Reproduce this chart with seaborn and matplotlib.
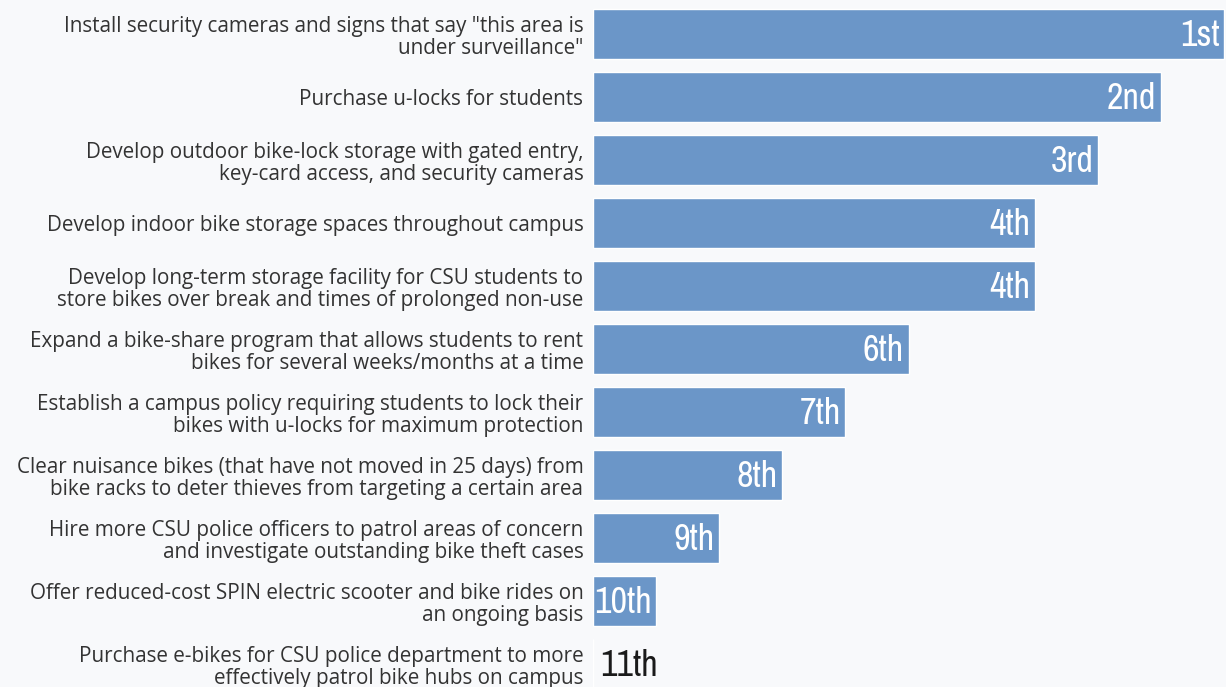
import matplotlib
matplotlib.use("Agg")
import matplotlib.pyplot as plt
from matplotlib import font_manager as fm
import seaborn as sns
import pandas as pd

categories = [
    'Install security cameras and signs that say "this area is\nunder surveillance"',
    'Purchase u-locks for students',
    'Develop outdoor bike-lock storage with gated entry,\nkey-card access, and security cameras',
    'Develop indoor bike storage spaces throughout campus',
    'Develop long-term storage facility for CSU students to\nstore bikes over break and times of prolonged non-use',
    'Expand a bike-share program that allows students to rent\nbikes for several weeks/months at a time',
    'Establish a campus policy requiring students to lock their\nbikes with u-locks for maximum protection',
    'Clear nuisance bikes (that have not moved in 25 days) from\nbike racks to deter thieves from targeting a certain area',
    'Hire more CSU police officers to patrol areas of concern\nand investigate outstanding bike theft cases',
    'Offer reduced-cost SPIN electric scooter and bike rides on\nan ongoing basis',
    'Purchase e-bikes for CSU police department to more\neffectively patrol bike hubs on campus',
]
scores = [10, 9, 8, 7, 7, 5, 4, 3, 2, 1, 0]
rank_labels = ["1st", "2nd", "3rd", "4th", "4th", "6th", "7th", "8th", "9th", "10th", "11th"]

df = pd.DataFrame({"option": categories, "score": scores, "rank": rank_labels})

sns.set_theme(style="white")
plt.rcParams['font.family'] = ['Open Sans', 'DejaVu Sans']

# find a narrow / condensed face if one is installed (narrow preferred)
def find_face(keyword):
    for f in fm.fontManager.ttflist:
        n = (f.name + " " + f.fname).lower()
        if keyword in n and "bold" not in n and "italic" not in n and "oblique" not in n:
            return f
    return None

face = find_face("narrow") or find_face("condensed")
if face is not None:
    rank_props = fm.FontProperties(fname=face.fname, size=26)
else:
    rank_props = fm.FontProperties(family="DejaVu Sans", stretch="condensed", size=22)

bg = "#f8f9fb"
fig = plt.figure(figsize=(12.26, 6.87), dpi=100, facecolor=bg)
ax = fig.add_axes([593 / 1226, 0.0, 1 - 593 / 1226, 1.0])
ax.set_facecolor(bg)

sns.barplot(data=df, y="option", x="score", orient="h", color="#6b96c8",
            saturation=1, width=0.79, ax=ax)

ax.set_xlim(0, (1226 - 593) / 63.1)
ax.set_ylim(10.365, -0.54)
ax.set_xlabel("")
ax.set_ylabel("")
ax.set_xticks([])
for s in ax.spines.values():
    s.set_visible(False)
ax.tick_params(axis="y", length=0, pad=7, labelsize=14.9, labelcolor="#333333")
for t in ax.get_yticklabels():
    t.set_horizontalalignment("right")
    t.set_multialignment("right")
    t.set_linespacing(1.12)

for i, (v, r) in enumerate(zip(scores, rank_labels)):
    if v > 0:
        ax.text(v - 0.07, i + 0.03, r, ha="right", va="center", color="white",
                fontproperties=rank_props)
    else:
        ax.text(v + 0.12, i + 0.03, r, ha="left", va="center", color="#1a1a1a",
                fontproperties=rank_props)

fig.savefig("out.png", dpi=100, facecolor=bg)
